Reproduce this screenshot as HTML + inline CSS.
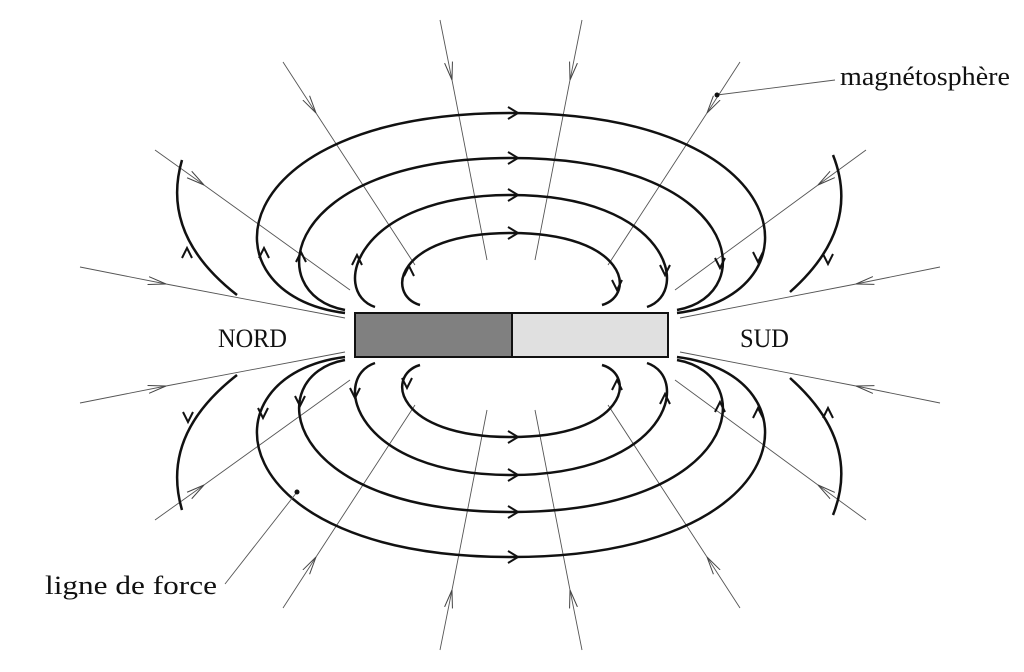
<!DOCTYPE html>
<html><head><meta charset="utf-8"><style>
html,body{margin:0;padding:0;background:#fff;}
svg{display:block;}
text{font-family:"Liberation Serif",serif;font-size:26px;fill:#111;}
</style></head><body>
<svg width="1024" height="672" viewBox="0 0 1024 672" xmlns="http://www.w3.org/2000/svg">
<defs>
<marker id="ta" viewBox="0 0 20 10" refX="18" refY="5" markerWidth="20" markerHeight="10" markerUnits="userSpaceOnUse" orient="auto">
<path d="M0,1 L18,5 L0,9" fill="none" stroke="#444" stroke-width="1"/>
</marker>
</defs>
<g stroke="#555" stroke-width="0.9" fill="none" marker-mid="url(#ta)">
<path d="M440,20 L452,80 L487,260"/>
<path d="M582,20 L570,80 L535,260"/>
<path d="M283,62 L316,113 L415,265"/>
<path d="M740,62 L707,113 L608,265"/>
<path d="M155,150 L204,185 L350,290"/>
<path d="M866,150 L818,185 L675,290"/>
<path d="M80,267 L166,284 L345,318"/>
<path d="M940,267 L856,284 L680,318"/>
<path d="M440,650 L452,590 L487,410"/>
<path d="M582,650 L570,590 L535,410"/>
<path d="M283,608 L316,557 L415,405"/>
<path d="M740,608 L707,557 L608,405"/>
<path d="M155,520 L204,485 L350,380"/>
<path d="M866,520 L818,485 L675,380"/>
<path d="M80,403 L166,386 L345,352"/>
<path d="M940,403 L856,386 L680,352"/>
</g>
<g stroke="#111" stroke-width="2.5" fill="none">
<path d="M420,305 C385,295 395,233 511,233 C627,233 637,295 602,305"/>
<path d="M375,307 C330,292 355,195 511,195 C667,195 692,292 647,307"/>
<path d="M345,310 C260,295 281,158 511,158 C741,158 762,295 677,310"/>
<path d="M345,313 C200,295 220,113 511,113 C802,113 822,295 677,313"/>
<path d="M420,365 C385,375 395,437 511,437 C627,437 637,375 602,365"/>
<path d="M375,363 C330,378 355,475 511,475 C667,475 692,378 647,363"/>
<path d="M345,360 C260,375 281,512 511,512 C741,512 762,375 677,360"/>
<path d="M345,357 C200,375 220,557 511,557 C802,557 822,375 677,357"/>
<path d="M182,160 Q160,235 237,295"/>
<path d="M833,155 Q862,228 790,292"/>
<path d="M237,375 Q160,435 182,510"/>
<path d="M790,378 Q862,442 833,515"/>
</g>
<g stroke="#111" stroke-width="2" fill="none">
<path d="M508,227 L518,233 L508,239"/><path d="M508,189 L518,195 L508,201"/>
<path d="M508,152 L518,158 L508,164"/><path d="M508,107 L518,113 L508,119"/>
<path d="M508,431 L518,437 L508,443"/><path d="M508,469 L518,475 L508,481"/>
<path d="M508,506 L518,512 L508,518"/><path d="M508,551 L518,557 L508,563"/>
<path d="M404,276 L409,266 L414,276"/><path d="M352,265 L357,255 L362,265"/>
<path d="M296,262 L301,252 L306,262"/><path d="M259,258 L264,248 L269,258"/>
<path d="M182,258 L187,248 L192,258"/>
<path d="M612,280 L617,290 L622,280"/><path d="M660,265 L665,275 L670,265"/>
<path d="M715,258 L720,268 L725,258"/><path d="M753,252 L758,262 L763,252"/>
<path d="M823,254 L828,264 L833,254"/>
<path d="M402,378 L407,388 L412,378"/><path d="M350,388 L355,398 L360,388"/>
<path d="M295,396 L300,406 L305,396"/><path d="M258,408 L263,418 L268,408"/>
<path d="M183,412 L188,422 L193,412"/>
<path d="M612,390 L617,380 L622,390"/><path d="M660,404 L665,394 L670,404"/>
<path d="M715,412 L720,402 L725,412"/><path d="M753,418 L758,408 L763,418"/>
<path d="M823,418 L828,408 L833,418"/>
</g>
<rect x="355" y="313" width="157" height="44" fill="#808080" stroke="#111" stroke-width="2"/>
<rect x="512" y="313" width="156" height="44" fill="#e0e0e0" stroke="#111" stroke-width="2"/>
<line x1="717" y1="95" x2="835" y2="80" stroke="#555" stroke-width="0.9"/>
<circle cx="717" cy="95" r="2.5" fill="#111"/>
<line x1="225" y1="584" x2="297" y2="492" stroke="#555" stroke-width="0.9"/>
<circle cx="297" cy="492" r="2.5" fill="#111"/>
<text x="840" y="85" textLength="170" lengthAdjust="spacingAndGlyphs">magnétosphère</text>
<text x="45" y="594" textLength="172" lengthAdjust="spacingAndGlyphs">ligne de force</text>
<text x="218" y="347" textLength="69" lengthAdjust="spacingAndGlyphs">NORD</text>
<text x="740" y="347" textLength="49" lengthAdjust="spacingAndGlyphs">SUD</text>
</svg>
</body></html>
